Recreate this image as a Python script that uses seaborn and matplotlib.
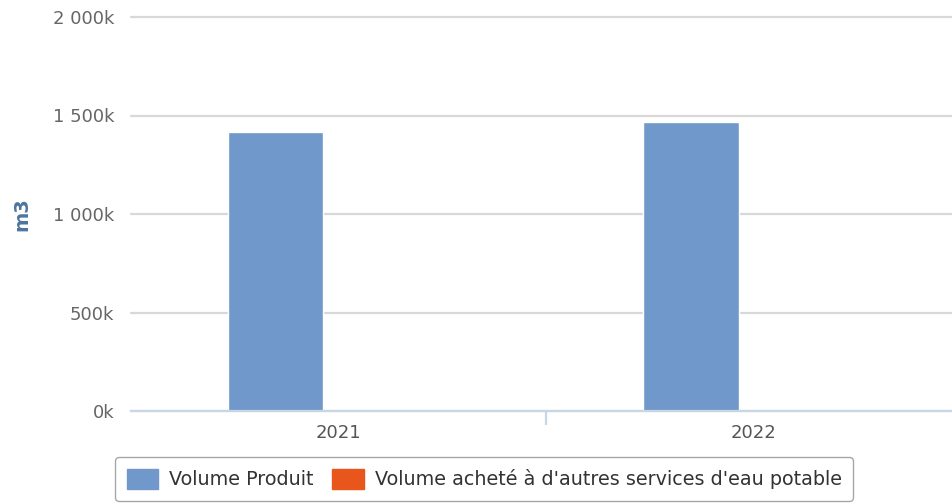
import matplotlib
matplotlib.use("Agg")
import matplotlib.pyplot as plt
import seaborn as sns
import pandas as pd
from matplotlib.patches import Patch
from matplotlib.ticker import FuncFormatter, FixedLocator

years = ["2021", "2022"]
series_names = ["Volume Produit", "Volume acheté à d'autres services d'eau potable"]
volume_produit = [1416000, 1467000]
volume_achete = [0, 0]
colors = ["#7198CB", "#E8561C"]

df = pd.DataFrame({
    "year": years * 2,
    "serie": [series_names[0]] * len(years) + [series_names[1]] * len(years),
    "value": volume_produit + volume_achete,
})

sns.set_style("white")
plt.rcParams["font.family"] = ["DejaVu Sans"]

fig = plt.figure(figsize=(9.53, 5.03), dpi=100)
ax = fig.add_axes([131 / 953, 92 / 503, 822 / 953, 394 / 503])

sns.barplot(data=df, x="year", y="value", hue="serie", palette=colors,
            width=0.608, gap=0.24, ax=ax, legend=False, errorbar=None,
            saturation=1)

ax.set_ylim(0, 2000000)
ax.set_xlim(-0.5, 1.48)
ax.yaxis.set_major_locator(FixedLocator([0, 500000, 1000000, 1500000, 2000000]))
ax.yaxis.set_major_formatter(FuncFormatter(
    lambda v, p: f"{v/1000:,.0f}".replace(",", " ") + "k"))
ax.grid(axis="y", color="#D8D8D8", linewidth=1.6)
for gl in ax.get_ygridlines():
    gl.set_clip_on(False)
ax.set_axisbelow(True)
for s in ["top", "right", "left"]:
    ax.spines[s].set_visible(False)
ax.spines["bottom"].set_color("#C8D6E6")
ax.spines["bottom"].set_linewidth(1.6)
ax.spines["bottom"].set_zorder(5)

ax.tick_params(axis="y", length=0, pad=12, labelsize=13, labelcolor="#666666")
ax.tick_params(axis="x", which="major", length=0, pad=9, labelsize=13,
               labelcolor="#555555")
ax.set_xticks([0.5], minor=True)
ax.tick_params(axis="x", which="minor", bottom=True, length=10, width=1.6,
               color="#C8D6E6", direction="out")

ax.set_xlabel("")
ax.set_ylabel("m3", fontsize=14, fontweight="bold", color="#4D759E")
ax.yaxis.set_label_coords(-0.121, 0.5)

handles = [Patch(facecolor=c, edgecolor=c) for c in colors]
leg = fig.legend(handles, series_names, loc="center", bbox_to_anchor=(0.508, 0.0477),
                 ncol=2, frameon=True, fancybox=True, fontsize=13.8,
                 handlelength=1.65, handleheight=1.25, handletextpad=0.55,
                 columnspacing=1.0, borderpad=0.6, borderaxespad=0,
                 labelcolor="#333333")
leg.get_frame().set_edgecolor("#909090")
leg.get_frame().set_linewidth(1.0)

fig.savefig("out.png", dpi=100)
